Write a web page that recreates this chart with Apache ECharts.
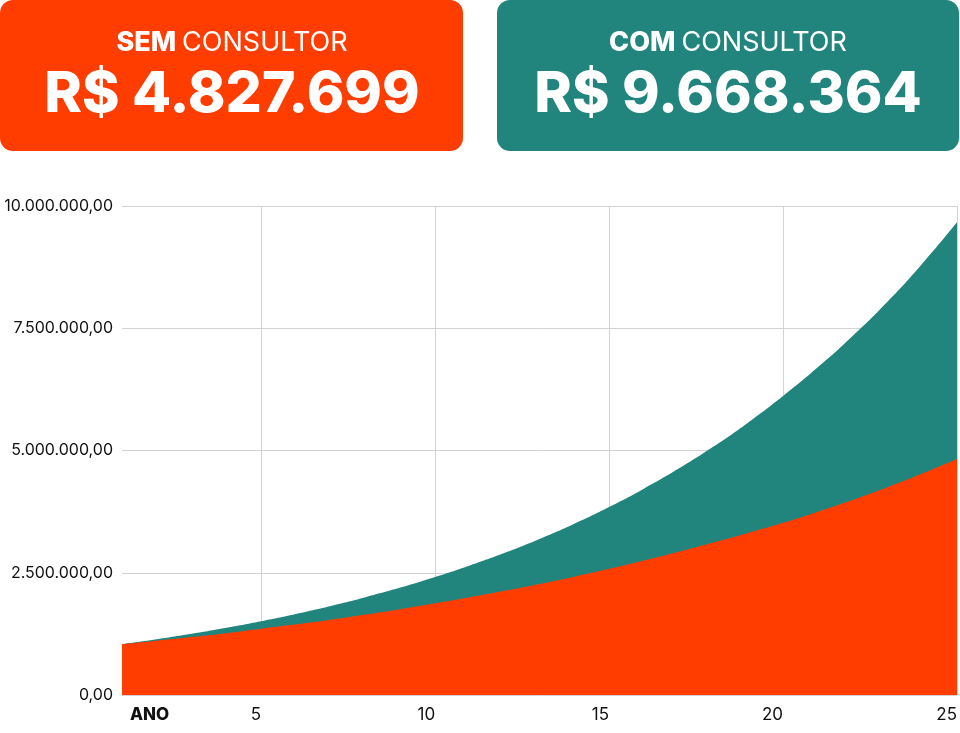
<!DOCTYPE html>
<html>
<head>
<meta charset="utf-8">
<script src="https://cdn.jsdelivr.net/npm/echarts@6/dist/echarts.min.js"></script>
<style>
html,body{margin:0;padding:0;background:#fff;}
#chart{width:960px;height:733px;}
</style>
</head>
<body>
<div id="chart"></div>
<script>
// Years (x axis categories)
const years = ['1','2','3','4','5','6','7','8','9','10','11','12','13','14','15','16','17','18','19','20','21','22','23','24','25'];
// "Com consultor" patrimony by year (R$)
const comConsultor = [1040000,1140000,1252000,1375000,1510000,1658000,1821000,2000000,2196000,2412000,2648000,2907000,3191000,3503000,3845000,4220000,4630000,5080000,5575000,6115000,6700000,7340000,8040000,8820000,9668364];
// "Sem consultor" patrimony by year (R$)
const semConsultor = [1040000,1110000,1185000,1265000,1355000,1445000,1540000,1645000,1755000,1875000,2000000,2130000,2270000,2420000,2580000,2750000,2930000,3120000,3315000,3520000,3750000,3990000,4250000,4530000,4827699];
// Header texts
const semLabel = ['SEM', 'CONSULTOR'];
const comLabel = ['COM', 'CONSULTOR'];
const semTotal = 'R$ 4.827.699';
const comTotal = 'R$ 9.668.364';
const xAxisTitle = 'ANO';
const xTickYears = ['5','10','15','20','25'];

const ORANGE = '#FF3D00';
const TEAL = '#22857D';
const FONT = 'Inter, "Open Sans", sans-serif';

function fmtBR(v){
  const s = Math.round(v).toString().replace(/\B(?=(\d{3})+(?!\d))/g, '.');
  return s + ',00';
}

const chart = echarts.init(document.getElementById('chart'), null, {renderer:'canvas'});
chart.setOption({
  animation:false,
  backgroundColor:'#fff',
  textStyle:{fontFamily:FONT},
  grid:{left:122, right:3, top:206, bottom:38, containLabel:false},
  xAxis:{
    type:'category',
    data:years,
    boundaryGap:false,
    axisLine:{show:false},
    axisTick:{show:false},
    axisLabel:{
      interval:function(i,v){return xTickYears.indexOf(v) >= 0;},
      align:'right',
      margin:11,
      fontSize:17,
      color:'#111',
      fontFamily:FONT
    },
    splitLine:{
      show:true,
      interval:function(i,v){return xTickYears.indexOf(v) >= 0;},
      lineStyle:{color:'#d3d3d3', width:1}
    }
  },
  yAxis:{
    type:'value',
    min:0, max:10000000, interval:2500000,
    axisLine:{show:false},
    axisTick:{show:false},
    axisLabel:{formatter:fmtBR, fontSize:16, color:'#111', margin:9, fontFamily:FONT},
    splitLine:{show:true, lineStyle:{color:'#d3d3d3', width:1}}
  },
  series:[
    {
      name:'COM CONSULTOR', type:'line', data:comConsultor, smooth:true,
      showSymbol:false, lineStyle:{width:0}, areaStyle:{color:TEAL, opacity:1}, z:2
    },
    {
      name:'SEM CONSULTOR', type:'line', data:semConsultor, smooth:true,
      showSymbol:false, lineStyle:{width:0}, areaStyle:{color:ORANGE, opacity:1}, z:3
    }
  ],
  graphic:[
    {type:'rect', shape:{x:0,y:0,width:463,height:151,r:13}, style:{fill:ORANGE}, z:10},
    {type:'rect', shape:{x:497,y:0,width:462,height:151,r:13}, style:{fill:TEAL}, z:10},
    {type:'text', x:232, y:43, z:11, style:{
      text:'{b|'+semLabel[0]+'\u00a0}{r|'+semLabel[1]+'}', align:'center', verticalAlign:'middle', fill:'#fff',
      rich:{b:{fontWeight:800, fontSize:27, fontFamily:FONT, fill:'#fff'}, r:{fontWeight:400, fontSize:27, fontFamily:FONT, fill:'#fff'}}
    }},
    {type:'text', x:728, y:43, z:11, style:{
      text:'{b|'+comLabel[0]+'\u00a0}{r|'+comLabel[1]+'}', align:'center', verticalAlign:'middle', fill:'#fff',
      rich:{b:{fontWeight:800, fontSize:27, fontFamily:FONT, fill:'#fff'}, r:{fontWeight:400, fontSize:27, fontFamily:FONT, fill:'#fff'}}
    }},
    {type:'text', x:232, y:95, z:11, style:{
      text:semTotal, align:'center', verticalAlign:'middle', fill:'#fff', font:'800 57px '+FONT
    }},
    {type:'text', x:728, y:95, z:11, style:{
      text:comTotal, align:'center', verticalAlign:'middle', fill:'#fff', font:'800 57px '+FONT
    }},
    {type:'text', x:130, y:715, z:11, style:{
      text:xAxisTitle, align:'left', verticalAlign:'middle', fill:'#111', font:'800 17px '+FONT
    }}
  ]
});
</script>
</body>
</html>
